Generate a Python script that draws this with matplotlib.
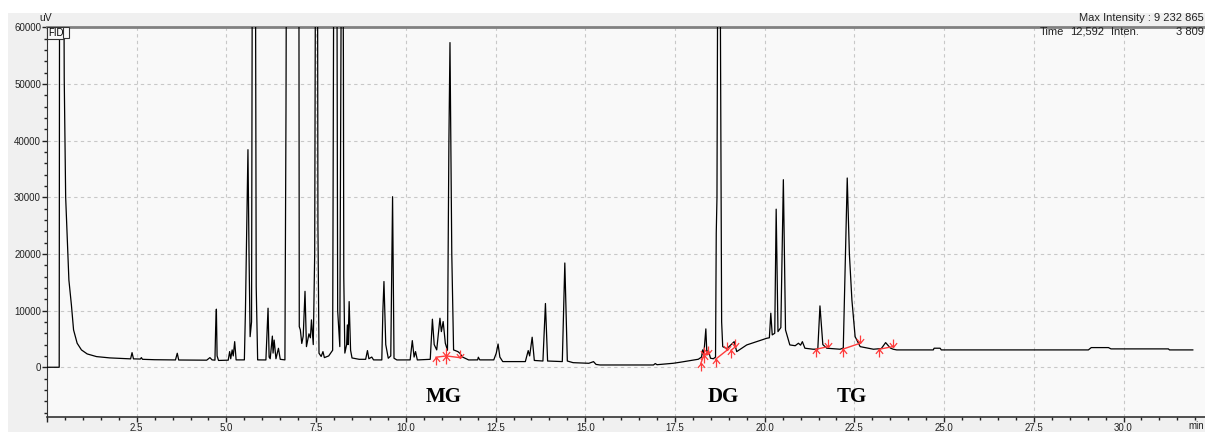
import matplotlib
matplotlib.use("Agg")
import matplotlib.pyplot as plt
from matplotlib.patches import Rectangle
from matplotlib.path import Path
from matplotlib.ticker import MultipleLocator, FuncFormatter

# FID chromatogram trace (retention time in min, signal in uV); 70000 = off scale
times = [
    0.00, 0.34, 0.35, 0.47, 0.48, 0.52, 0.61, 0.68, 0.74, 0.84, 0.96, 1.12, 1.38,
    1.75, 2.21, 2.33, 2.37, 2.41, 2.60, 2.63, 2.66, 3.00, 3.58, 3.63, 3.67, 4.45,
    4.54, 4.60, 4.68, 4.70, 4.72, 4.74, 4.78, 5.05, 5.09, 5.12, 5.16, 5.19, 5.23,
    5.27, 5.50, 5.53, 5.56, 5.60, 5.63, 5.66, 5.70, 5.72, 5.81, 5.83, 5.87, 6.10,
    6.16, 6.19, 6.22, 6.28, 6.30, 6.33, 6.38, 6.45, 6.50, 6.63, 6.66, 6.67, 7.02,
    7.03, 7.06, 7.10, 7.14, 7.19, 7.23, 7.30, 7.34, 7.37, 7.42, 7.46, 7.48, 7.54,
    7.55, 7.58, 7.64, 7.69, 7.73, 7.85, 7.96, 7.99, 8.08, 8.10, 8.16, 8.20, 8.25,
    8.26, 8.27, 8.30, 8.35, 8.37, 8.39, 8.42, 8.46, 8.50, 8.70, 8.88, 8.93, 8.97,
    9.05, 9.10, 9.33, 9.36, 9.39, 9.44, 9.51, 9.58, 9.63, 9.67, 9.75, 10.12, 10.18,
    10.23, 10.27, 10.32, 10.68, 10.71, 10.74, 10.79, 10.86, 10.90, 10.95, 10.99,
    11.04, 11.10, 11.16, 11.20, 11.23, 11.28, 11.33, 11.45, 11.50, 11.58, 11.75,
    12.00, 12.02, 12.06, 12.45, 12.52, 12.57, 12.62, 12.70, 13.33, 13.41, 13.45,
    13.52, 13.58, 13.82, 13.89, 13.95, 14.36, 14.43, 14.50, 14.66, 15.10, 15.23,
    15.30, 15.41, 16.90, 16.95, 17.00, 17.45, 17.64, 18.15, 18.24, 18.27, 18.30,
    18.36, 18.39, 18.43, 18.49, 18.57, 18.63, 18.65, 18.67, 18.69, 18.76, 18.80,
    18.83, 18.94, 19.00, 19.15, 19.22, 19.50, 19.78, 20.06, 20.13, 20.17, 20.21,
    20.28, 20.32, 20.37, 20.45, 20.52, 20.58, 20.70, 20.85, 20.94, 21.00, 21.05,
    21.12, 21.35, 21.48, 21.54, 21.62, 21.73, 22.10, 22.19, 22.25, 22.30, 22.36,
    22.43, 22.52, 22.66, 23.03, 23.25, 23.37, 23.50, 23.58, 23.68, 24.70, 24.72,
    24.89, 24.92, 29.02, 29.10, 29.58, 29.65, 31.25, 31.28, 31.93,
]
signal = [
    0, 0, 70000, 70000, 51000, 30000, 15400, 11000, 6600, 4240, 3060, 2350, 1880,
    1650, 1530, 1480, 2580, 1480, 1450, 1700, 1400, 1330, 1290, 2470, 1280, 1250,
    1700, 1300, 1250, 7000, 10250, 2000, 1200, 1250, 2760, 1500, 3060, 2000, 4520,
    1300, 1300, 10000, 21900, 38400, 20000, 5400, 8000, 70000, 70000, 14250, 1300, 1290,
    10420, 1800, 1500, 5500, 2500, 4800, 1500, 3350, 1400, 1300, 45500, 70000, 70000,
    7170, 6600, 4200, 5500, 13400, 3640, 5900, 5200, 8360, 4000, 20000, 70000, 70000,
    25000, 2470, 1900, 2760, 1700, 2000, 3000, 70000, 70000, 10000, 3640, 70000, 70000,
    54300, 16000, 2500, 4000, 7470, 4000, 11590, 3000, 1640, 1400, 1400, 2940, 1500,
    1800, 1300, 1290, 10000, 15130, 4000, 1590, 2000, 30100, 1590, 1290, 1300, 4700,
    1800, 2760, 1290, 1400, 5000, 8480, 4000, 3060, 5500, 8650, 6290,
    8060, 4240, 3000, 40000, 57300, 20000, 3060, 2760, 2500, 1800, 1290,
    1300, 1770, 1300, 1300, 2500, 4100, 1800, 1000, 1000, 2940, 2000,
    5300, 1200, 1100, 11250, 1100, 1000, 18400, 1100, 810, 700, 990,
    500, 400, 400, 650, 450, 700, 880, 1410, 1800, 3060, 2000,
    6770, 2170, 3000, 1590, 1500, 1800, 23700, 29900, 70000, 70000, 8000,
    3640, 3300, 3600, 4520, 2760, 3940, 4520, 5120, 5200, 9540, 5710,
    6000, 27900, 6290, 7000, 33100, 6590, 3940, 3800, 4240, 3900, 4520,
    3360, 3180, 3200, 10830, 4000, 3360, 3180, 3400, 20000, 33400, 20000,
    11890, 5400, 3640, 3180, 3300, 4350, 3400, 3180, 3060, 3060, 3360,
    3360, 3060, 3060, 3470, 3470, 3240, 3240, 3060, 3060,
]

# integration baselines drawn by the data system (start, end) per peak
base_segments = [
    [(10.84, 1770), (11.13, 2000)],
    [(11.13, 2000), (11.50, 1700)],
    [(18.22, 700), (18.31, 2170)],
    [(18.31, 2170), (18.43, 2350)],
    [(18.63, 1410), (18.96, 3060)],
    [(19.06, 3000), (19.17, 3530)],
    [(21.43, 3180), (21.77, 3640)],
    [(22.17, 3180), (22.66, 4240)],
    [(23.19, 3180), (23.57, 3640)],
]

groups = ["MG", "DG", "TG"]
group_pos = [11.06, 18.85, 22.42]

W, H = 1205, 432
fig = plt.figure(figsize=(W / 100, H / 100), dpi=100)
fig.patch.set_facecolor("white")
fig.patches.append(Rectangle((8 / W, 0), 1, (H - 13) / H, transform=fig.transFigure,
                             facecolor="#f0f0f0", edgecolor="none", zorder=-5))

ax = fig.add_axes([47 / W, (H - 417) / H, (W - 47) / W, 390 / H])
ax.set_facecolor("#f9f9f9")

ax.plot(times, signal, color="black", lw=0.9, zorder=3)

# arrow markers: start of peak (points up) and end of peak (points down)
up = Path([(0, 0), (0, -1), (-0.45, -0.55), (0, 0), (0.45, -0.55)],
          [Path.MOVETO, Path.LINETO, Path.MOVETO, Path.LINETO, Path.LINETO])
down = Path([(0, 0), (0, 1), (-0.45, 0.55), (0, 0), (0.45, 0.55)],
            [Path.MOVETO, Path.LINETO, Path.MOVETO, Path.LINETO, Path.LINETO])
red = "#ff3b3b"
for seg in base_segments:
    (x0, y0), (x1, y1) = seg
    ax.plot([x0, x1], [y0, y1], color=red, lw=1.0, zorder=4)
    ax.plot([x0], [y0], marker=up, ms=11.5, mfc="none", mec=red, mew=0.9, zorder=4)
    ax.plot([x1], [y1], marker=down, ms=11.5, mfc="none", mec=red, mew=0.9, zorder=4)

for name, x in zip(groups, group_pos):
    ax.text(x, -5250, name, ha="center", va="center", fontsize=15,
            fontweight="bold", family="Liberation Serif", color="black")

ax.set_xlim(0, 32.27)
ax.set_ylim(-8780, 60050)
ax.xaxis.set_major_locator(MultipleLocator(2.5))
ax.xaxis.set_minor_locator(MultipleLocator(0.5))
ax.yaxis.set_major_locator(MultipleLocator(10000))
ax.yaxis.set_minor_locator(MultipleLocator(2000))
ax.xaxis.set_major_formatter(FuncFormatter(lambda v, p: f"{v:.1f}" if v > 0 else ""))
ax.yaxis.set_major_formatter(FuncFormatter(lambda v, p: f"{v:.0f}" if v >= 0 else ""))
ax.tick_params(which="major", length=3.5, width=1, color="#222222", pad=0.8,
               labelsize=7, labelcolor="#222222")
ax.tick_params(which="minor", length=2.5, width=1, color="#222222")
for lab in ax.get_xticklabels() + ax.get_yticklabels():
    lab.set_family("Liberation Sans")

ax.grid(which="major", color="#c8c8c8", lw=0.8, ls=(0, (3, 3)))
ax.set_axisbelow(True)
ax.spines["right"].set_visible(False)
ax.spines["top"].set_color("#808080")
ax.spines["top"].set_linewidth(2)
ax.spines["left"].set_color("#333333")
ax.spines["bottom"].set_color("#333333")
ax.spines["bottom"].set_linewidth(1.2)

narrow = ["Liberation Sans Narrow", "Liberation Sans"]
fig.text(46 / W, 1 - 18 / H, "uV", ha="center", va="center", fontsize=7.5,
         family="Liberation Sans", color="#222222")
fig.text(1 - 1 / W, 1 - 18 / H, "Max Intensity : 9 232 865", ha="right", va="center",
         fontsize=8, family=narrow, color="#222222")
fig.text(1040 / W, 1 - 32 / H, "Time", ha="left", va="center", fontsize=8,
         family=narrow, color="#222222")
fig.text(1070 / W, 1 - 32 / H, "12,592", ha="left", va="center", fontsize=8,
         family=narrow, color="#222222")
fig.text(1111 / W, 1 - 32 / H, "Inten.", ha="left", va="center", fontsize=8,
         family=narrow, color="#222222")
fig.text(1 - 1 / W, 1 - 32 / H, "3 809", ha="right", va="center", fontsize=8,
         family=narrow, color="#222222")
fig.text(1 - 1 / W, 1 - 426 / H, "min", ha="right", va="center", fontsize=7,
         family="Liberation Sans", color="#222222")

# detector tab in the top-left corner of the plot
fig.text(48 / W, 1 - 33 / H, "FID", ha="left", va="center", fontsize=7,
         family="Liberation Sans", color="black",
         bbox=dict(boxstyle="square,pad=0.1", fc="#f9f9f9", ec="#333333", lw=0.8))
fig.patches.append(Rectangle((63 / W, 1 - 38 / H), 6 / W, 11 / H, transform=fig.transFigure,
                             facecolor="#f9f9f9", edgecolor="#333333", lw=0.8, zorder=5))

fig.savefig("out.png", dpi=100)
